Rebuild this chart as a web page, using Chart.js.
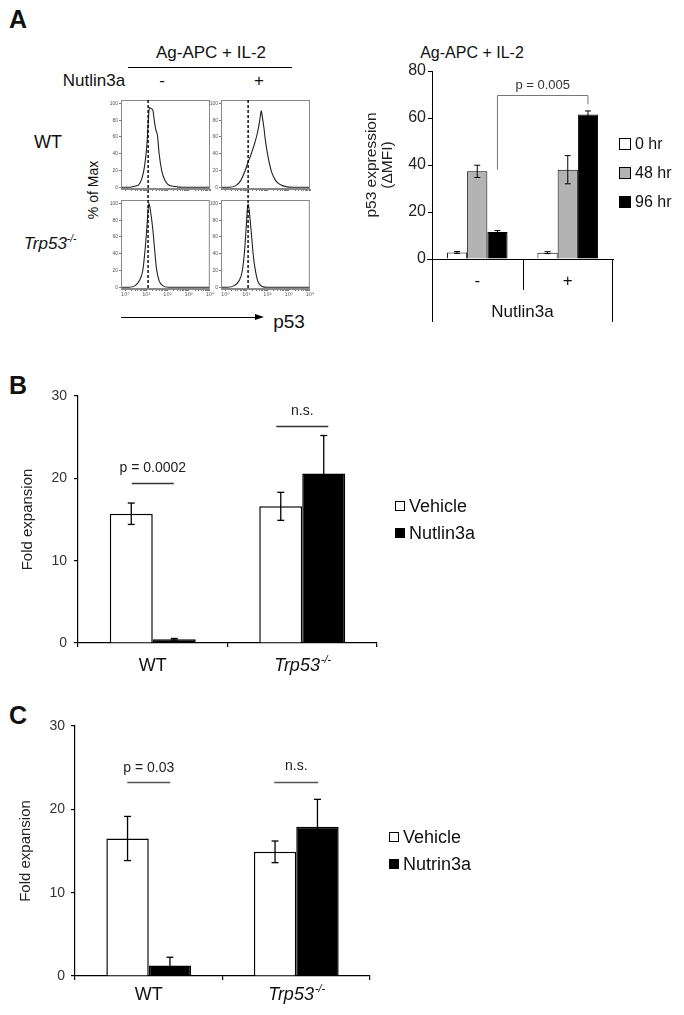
<!DOCTYPE html>
<html>
<head>
<meta charset="utf-8">
<script src="https://cdn.jsdelivr.net/npm/chart.js@4.4.1/dist/chart.umd.min.js"></script>
<style>
body { margin: 0; background: #fff; }
#fig { position: relative; width: 684px; height: 1015px; overflow: hidden; font-family: "Liberation Sans", Arial, sans-serif; color: #111; }
#fig canvas { position: absolute; }
.t { position: absolute; white-space: nowrap; line-height: 1; transform: translate(-50%, -50%); }
.b { font-weight: bold; font-size: 25px; }
</style>
</head>
<body>
<div id="fig">
  <!-- panel letters and free text -->
  <div class="t b" style="left:18px;top:19px">A</div>
  <div class="t b" style="left:18px;top:385px">B</div>
  <div class="t b" style="left:18px;top:715px">C</div>

  <div class="t" style="left:211px;top:52px;font-size:17px">Ag-APC + IL-2</div>
  <div style="position:absolute;left:128px;top:67px;width:164px;height:1px;background:#000"></div>
  <div class="t" style="left:94px;top:80px;font-size:17px">Nutlin3a</div>
  <div class="t" style="left:162px;top:80px;font-size:17px">-</div>
  <div class="t" style="left:259px;top:80px;font-size:17px">+</div>
  <div class="t" style="left:48px;top:142px;font-size:18px">WT</div>
  <div class="t" style="left:50px;top:243px;font-size:17px"><i>Trp53</i><sup style="font-size:10px;font-style:italic">-/-</sup></div>
  <div class="t" style="left:93px;top:190px;font-size:14px;transform:translate(-50%,-50%) rotate(-90deg)">% of Max</div>
  <div style="position:absolute;left:121px;top:317px;width:134px;height:1px;background:#000"></div>
  <div style="position:absolute;left:255px;top:314px;width:0;height:0;border-top:3.5px solid transparent;border-bottom:3.5px solid transparent;border-left:9px solid #000"></div>
  <div class="t" style="left:289px;top:321px;font-size:19px">p53</div>

  <div class="t" style="left:472px;top:53px;font-size:16px">Ag-APC + IL-2</div>

  <canvas id="hTL" width="115" height="103" style="left:100px;top:92px"></canvas>
  <canvas id="hTR" width="115" height="103" style="left:200px;top:92px"></canvas>
  <canvas id="hBL" width="115" height="110" style="left:100px;top:195px"></canvas>
  <canvas id="hBR" width="115" height="110" style="left:200px;top:195px"></canvas>
  <canvas id="chartA" width="344" height="300" style="left:340px;top:40px"></canvas>
  <canvas id="chartB" width="684" height="330" style="left:0px;top:370px"></canvas>
  <canvas id="chartC" width="684" height="315" style="left:0px;top:700px"></canvas>
</div>

<script>
// ---------- data ----------
// flow histograms: x = log10(p53 fluorescence), y = % of max
const wtMinusLog = [-0.2, 0.16, 0.39, 0.63, 0.78, 0.91, 1.02, 1.09, 1.14, 1.2, 1.3, 1.38, 1.45, 1.52, 1.6, 1.72, 1.88, 2.03, 2.34, 2.7, 4.0];
const wtMinusPct = [0, 0, 1, 3, 10, 25, 50, 80, 95, 94, 92, 78, 68, 62, 40, 20, 8, 3, 1, 0, 0];
const wtPlusLog = [-0.2, 0.19, 0.5, 0.73, 0.94, 1.05, 1.2, 1.36, 1.52, 1.63, 1.7, 1.75, 1.83, 1.9, 2.03, 2.19, 2.38, 2.61, 2.92, 3.16, 4.0];
const wtPlusPct = [0, 0, 2, 8, 20, 28, 38, 50, 65, 80, 91, 84, 70, 55, 35, 18, 8, 3, 0.5, 0, 0];
const koMinusLog = [-0.2, 0.16, 0.47, 0.67, 0.83, 0.94, 1.02, 1.09, 1.12, 1.2, 1.3, 1.39, 1.48, 1.6, 1.77, 2.03, 4.0];
const koMinusPct = [0, 0, 2, 8, 20, 45, 70, 95, 100, 90, 70, 45, 22, 8, 2, 0, 0];
const koPlusLog = [-0.2, 0.11, 0.42, 0.66, 0.81, 0.92, 1.0, 1.06, 1.09, 1.16, 1.25, 1.34, 1.44, 1.56, 1.75, 1.98, 4.0];
const koPlusPct = [0, 0, 2, 8, 20, 45, 75, 97, 99, 85, 60, 35, 18, 6, 1, 0, 0];
const gateLog = 1.08;

// panel A bar chart
const nutlinGroups = ['-', '+'];
const timeLabels = ['0 hr', '48 hr', '96 hr'];
const p53_0hr = [2.8, 2.7];
const p53_0hr_err = [0.4, 0.4];
const p53_48hr = [37.3, 38.0];
const p53_48hr_err = [2.6, 6.0];
const p53_96hr = [11.5, 61.5];
const p53_96hr_err = [0.6, 1.5];

// panels B and C
const genotypes = ['WT', 'Trp53-/-'];
const expB_vehicle = [15.7, 16.6];
const expB_vehicle_err = [1.3, 1.7];
const expB_nutlin = [0.45, 20.6];
const expB_nutlin_err = [0.1, 4.6];
const expC_vehicle = [16.5, 14.9];
const expC_vehicle_err = [2.65, 1.3];
const expC_nutrin = [1.25, 17.9];
const expC_nutrin_err = [1.0, 3.3];

// ---------- setup ----------
const FAM = '"Liberation Sans", Arial, sans-serif';
Chart.defaults.font.family = FAM;
Chart.defaults.color = '#222';
Chart.defaults.animation = false;
Chart.defaults.plugins.legend.display = false;
Chart.defaults.plugins.tooltip.enabled = false;

function seg(ctx, x1, y1, x2, y2) {
    ctx.beginPath();
    ctx.moveTo(x1, y1);
    ctx.lineTo(x2, y2);
    ctx.stroke();
}

// draws 'WT' or an italic gene name with superscript -/-
function drawGeno(ctx, label, cx, cy, size) {
    ctx.save();
    ctx.fillStyle = '#111';
    ctx.textBaseline = 'middle';
    if (label.endsWith('-/-')) {
        const name = label.slice(0, -3);
        ctx.font = `italic ${size}px ${FAM}`;
        const w1 = ctx.measureText(name).width;
        ctx.font = `italic ${Math.round(size * 0.6)}px ${FAM}`;
        const w2 = ctx.measureText('-/-').width;
        const x0 = cx - (w1 + w2) / 2;
        ctx.font = `italic ${size}px ${FAM}`;
        ctx.fillText(name, x0, cy);
        ctx.font = `italic ${Math.round(size * 0.6)}px ${FAM}`;
        ctx.fillText('-/-', x0 + w1 + 1, cy - size * 0.35);
    } else {
        ctx.font = `${size}px ${FAM}`;
        ctx.textAlign = 'center';
        ctx.fillText(label, cx, cy);
    }
    ctx.restore();
}

// ---------- histograms ----------
const sup = ['\u2070', '\u00b9', '\u00b2', '\u00b3', '\u2074'];

function histPlugin(isBottom) {
    return {
        id: 'histBox',
        afterDraw(chart) {
            const { ctx, chartArea: { left, right, top, bottom }, scales: { x } } = chart;
            ctx.save();
            ctx.strokeStyle = '#888';
            ctx.lineWidth = 1;
            ctx.strokeRect(left + 0.5, top + 0.5, right - left - 1, bottom - top - 1);
            const gx = x.getPixelForValue(gateLog);
            ctx.strokeStyle = '#000';
            ctx.lineWidth = 1.4;
            ctx.setLineDash([3, 2]);
            if (isBottom) seg(ctx, gx, 0, gx, bottom);
            else seg(ctx, gx, top, gx, chart.height);
            ctx.restore();
        }
    };
}

function makeHist(id, logs, pct, isBottom) {
    new Chart(document.getElementById(id), {
        type: 'line',
        data: {
            datasets: [{
                data: logs.map((v, i) => ({ x: v, y: pct[i] })),
                borderColor: '#222',
                borderWidth: 1.1,
                pointRadius: 0,
                cubicInterpolationMode: 'monotone'
            }]
        },
        options: {
            responsive: false,
            layout: { padding: { top: isBottom ? 5 : 8, right: 5, left: 0, bottom: 0 } },
            scales: {
                x: {
                    type: 'linear', min: -0.2, max: 4,
                    afterFit: s => { s.height = isBottom ? 16 : 6; },
                    afterBuildTicks: s => {
                        const t = [];
                        for (let n = 0; n < 4; n++) for (let d = 1; d < 10; d++) t.push({ value: n + Math.log10(d) });
                        t.push({ value: 4 });
                        s.ticks = t;
                    },
                    grid: { drawOnChartArea: false, tickLength: 2, color: '#777' },
                    border: { color: '#888' },
                    ticks: {
                        display: isBottom, autoSkip: false, maxRotation: 0, padding: 1,
                        font: { size: 5, family: '"DejaVu Sans", sans-serif' }, color: '#555',
                        callback: v => Number.isInteger(v) ? '10' + sup[v] : ''
                    }
                },
                y: {
                    min: -2, max: 104,
                    afterFit: s => { s.width = 21; },
                    afterBuildTicks: s => { s.ticks = [0, 20, 40, 60, 80, 100].map(v => ({ value: v })); },
                    grid: { drawOnChartArea: false, tickLength: 2, color: '#777' },
                    border: { color: '#888' },
                    ticks: { font: { size: 5 }, color: '#555', padding: 1 }
                }
            }
        },
        plugins: [histPlugin(isBottom)]
    });
}

makeHist('hTL', wtMinusLog, wtMinusPct, false);
makeHist('hTR', wtPlusLog, wtPlusPct, false);
makeHist('hBL', koMinusLog, koMinusPct, true);
makeHist('hBR', koPlusLog, koPlusPct, true);

// ---------- shared bar helpers ----------
function errorBars(cap, width) {
    return {
        id: 'errorBars',
        afterDatasetsDraw(chart) {
            const { ctx, scales: { y } } = chart;
            ctx.save();
            ctx.strokeStyle = '#000';
            ctx.lineWidth = width;
            chart.data.datasets.forEach((ds, i) => {
                chart.getDatasetMeta(i).data.forEach((bar, j) => {
                    const v = ds.data[j], e = ds.errors[j];
                    const yt = y.getPixelForValue(v + e), yb = y.getPixelForValue(v - e);
                    seg(ctx, bar.x, yt, bar.x, yb);
                    seg(ctx, bar.x - cap, yt, bar.x + cap, yt);
                    seg(ctx, bar.x - cap, yb, bar.x + cap, yb);
                });
            });
            ctx.restore();
        }
    };
}

function boxLegend(o) {
    return {
        id: 'boxLegend',
        afterDraw(chart) {
            const { ctx } = chart;
            ctx.save();
            ctx.font = `${o.size}px ${FAM}`;
            ctx.textBaseline = 'middle';
            chart.data.datasets.forEach((ds, i) => {
                const cy = o.y + i * o.dy;
                ctx.fillStyle = ds.backgroundColor;
                ctx.fillRect(o.x, cy - o.box / 2, o.box, o.box);
                ctx.strokeStyle = '#000';
                ctx.lineWidth = 1;
                ctx.strokeRect(o.x + 0.5, cy - o.box / 2 + 0.5, o.box - 1, o.box - 1);
                ctx.fillStyle = '#111';
                ctx.fillText(ds.label, o.x + o.box + o.gap, cy + 1);
            });
            ctx.restore();
        }
    };
}

function genoLabels(dy, size) {
    return {
        id: 'genoLabels',
        afterDraw(chart) {
            const { ctx, chartArea: { bottom }, scales: { x } } = chart;
            chart.data.labels.forEach((lab, i) => drawGeno(ctx, lab, x.getPixelForTick(i), bottom + dy, size));
        }
    };
}

function sigLines(items, color) {
    return {
        id: 'sigLines',
        afterDraw(chart) {
            const { ctx, scales: { x, y } } = chart;
            ctx.save();
            ctx.strokeStyle = color;
            ctx.lineWidth = 1.5;
            ctx.fillStyle = '#222';
            ctx.font = `14px ${FAM}`;
            ctx.textAlign = 'center';
            ctx.textBaseline = 'middle';
            items.forEach(it => {
                const cx = x.getPixelForTick(it.group), py = Math.round(y.getPixelForValue(it.y)) + 0.5;
                seg(ctx, cx - it.half, py, cx + it.half, py);
                ctx.fillText(it.text, cx, py - it.dy);
            });
            ctx.restore();
        }
    };
}

// ---------- panel A, bar chart ----------
const panelA = {
    id: 'panelA',
    afterDraw(chart) {
        const { ctx, chartArea: { left, right, bottom }, scales: { x, y } } = chart;
        ctx.save();
        ctx.strokeStyle = '#000';
        ctx.lineWidth = 1;
        const mid = Math.round((x.getPixelForTick(0) + x.getPixelForTick(1)) / 2) + 0.5;
        seg(ctx, left - 5, bottom + 0.5, left, bottom + 0.5);
        seg(ctx, left + 0.5, bottom, left + 0.5, bottom + 63);
        seg(ctx, right - 0.5, bottom, right - 0.5, bottom + 63);
        seg(ctx, mid, bottom, mid, bottom + 31);
        ctx.fillStyle = '#111';
        ctx.textAlign = 'center';
        ctx.textBaseline = 'middle';
        ctx.font = `17px ${FAM}`;
        chart.data.labels.forEach((lab, i) => ctx.fillText(lab, x.getPixelForTick(i), bottom + 22));
        ctx.fillText('Nutlin3a', (left + right) / 2, bottom + 53);
        // p value bracket between the two 96 hr bars
        const m = chart.getDatasetMeta(2).data;
        const yTop = Math.round(y.getPixelForValue(70)) + 0.5;
        ctx.strokeStyle = '#777';
        ctx.beginPath();
        ctx.moveTo(m[0].x, y.getPixelForValue(38));
        ctx.lineTo(m[0].x, yTop);
        ctx.lineTo(m[1].x, yTop);
        ctx.lineTo(m[1].x, y.getPixelForValue(65.8));
        ctx.stroke();
        ctx.font = `13px ${FAM}`;
        ctx.fillStyle = '#333';
        ctx.fillText('p = 0.005', (m[0].x + m[1].x) / 2, yTop - 10);
        ctx.restore();
    }
};

new Chart(document.getElementById('chartA'), {
    type: 'bar',
    data: {
        labels: nutlinGroups,
        datasets: [
            { label: timeLabels[0], data: p53_0hr, errors: p53_0hr_err, backgroundColor: '#ffffff' },
            { label: timeLabels[1], data: p53_48hr, errors: p53_48hr_err, backgroundColor: '#b3b3b3' },
            { label: timeLabels[2], data: p53_96hr, errors: p53_96hr_err, backgroundColor: '#000000' }
        ]
    },
    options: {
        responsive: false,
        datasets: { bar: { borderColor: '#000', borderWidth: 1, categoryPercentage: 0.67, barPercentage: 1 } },
        layout: { padding: { top: 31, right: 71, left: 0, bottom: 0 } },
        scales: {
            x: {
                afterFit: s => { s.height = 81; },
                grid: { display: false },
                border: { color: '#000' },
                ticks: { display: false }
            },
            y: {
                min: 0, max: 80,
                afterFit: s => { s.width = 92; },
                grid: { drawOnChartArea: false, tickLength: 4, color: '#000' },
                border: { color: '#000' },
                ticks: { stepSize: 20, font: { size: 16 }, color: '#222', padding: 2 },
                title: {
                    display: true, text: ['p53 expression', '(\u0394MFI)'],
                    font: { size: 15.5, lineHeight: 1.0 }, color: '#222', padding: { top: 24, bottom: 0 }
                }
            }
        }
    },
    plugins: [errorBars(3, 1), panelA, boxLegend({ x: 279, y: 104, dy: 29, box: 12, gap: 4, size: 16 })]
});

// ---------- panels B and C ----------
function makeExpansion(id, vehicle, vehicleErr, drug, drugErr, drugLabel, o) {
    new Chart(document.getElementById(id), {
        type: 'bar',
        data: {
            labels: genotypes,
            datasets: [
                { label: 'Vehicle', data: vehicle, errors: vehicleErr, backgroundColor: '#ffffff' },
                { label: drugLabel, data: drug, errors: drugErr, backgroundColor: '#000000' }
            ]
        },
        options: {
            responsive: false,
            datasets: { bar: { borderColor: '#000', borderWidth: 1.5, categoryPercentage: 0.575, barPercentage: 1 } },
            layout: { padding: { top: o.top, right: o.right, left: 0, bottom: 0 } },
            scales: {
                x: {
                    afterFit: s => { s.height = o.xh; },
                    grid: { offset: true, drawOnChartArea: false, tickLength: 4, color: '#000', lineWidth: 1.2 },
                    border: { color: '#000', width: 1.2 },
                    ticks: { display: false }
                },
                y: {
                    min: 0, max: 30,
                    afterFit: s => { s.width = o.yw; },
                    grid: { drawOnChartArea: false, tickLength: 4, color: '#000', lineWidth: 1.2 },
                    border: { color: '#000', width: 1.2 },
                    ticks: { stepSize: 10, font: { size: 14 }, color: '#333', padding: o.tickPad },
                    title: { display: true, text: 'Fold expansion', font: { size: 15 }, color: '#222', padding: { top: o.titlePad, bottom: 0 } }
                }
            }
        },
        plugins: [
            errorBars(3.5, 1.3),
            genoLabels(o.labDy, 18),
            sigLines(o.sig, o.sigColor),
            boxLegend({ x: o.legX, y: o.legY, dy: 27, box: 10, gap: 4, size: 18 })
        ]
    });
}

makeExpansion('chartB', expB_vehicle, expB_vehicle_err, expB_nutlin, expB_nutlin_err, 'Nutlin3a', {
    top: 26, right: 307, xh: 57, yw: 78, tickPad: 7, titlePad: 19, labDy: 23,
    legX: 395, legY: 136, sigColor: '#333',
    sig: [
        { group: 0, y: 19.4, half: 21, dy: 15, text: 'p = 0.0002' },
        { group: 1, y: 26.4, half: 26, dy: 15, text: 'n.s.' }
    ]
});

makeExpansion('chartC', expC_vehicle, expC_vehicle_err, expC_nutrin, expC_nutrin_err, 'Nutrin3a', {
    top: 26, right: 314, xh: 39, yw: 75, tickPad: 6, titlePad: 17, labDy: 19,
    legX: 389, legY: 137, sigColor: '#555',
    sig: [
        { group: 0, y: 23.3, half: 21.5, dy: 14, text: 'p = 0.03' },
        { group: 1, y: 23.3, half: 22, dy: 16, text: 'n.s.' }
    ]
});
</script>
</body>
</html>
